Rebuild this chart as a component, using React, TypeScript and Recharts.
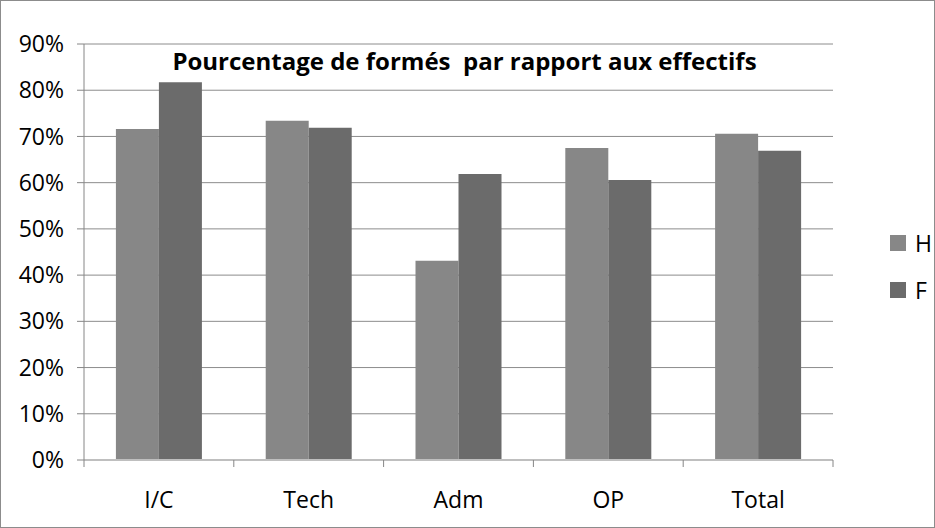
import React from 'react';
import { BarChart, Bar, XAxis, YAxis, CartesianGrid } from 'recharts';

const categories = ['I/C', 'Tech', 'Adm', 'OP', 'Total'];
const hommes = [0.716, 0.734, 0.431, 0.675, 0.706];
const femmes = [0.817, 0.719, 0.619, 0.606, 0.669];
const yTicks = [0, 0.1, 0.2, 0.3, 0.4, 0.5, 0.6, 0.7, 0.8, 0.9];
const title = 'Pourcentage de formés  par rapport aux effectifs';
const series = [
  { key: 'H', color: '#878787' },
  { key: 'F', color: '#6b6b6b' },
];

const data = categories.map((name, i) => ({ name, H: hommes[i], F: femmes[i] }));

const FONT = '"Open Sans", sans-serif';
const W = 935;
const H = 528;
const MARGIN = { top: 44, right: 102, left: 0, bottom: 0 };
const Y_WIDTH = 84;
const BAND = (W - MARGIN.left - MARGIN.right - Y_WIDTH) / categories.length;

// Excel style: tick marks sit between categories, labels in the middle
const CategoryTick = (props: any) => {
  const { x, y, payload, index } = props;
  return (
    <g>
      <line x1={x - BAND / 2} x2={x - BAND / 2} y1={y} y2={y + 7} stroke="#868686" />
      {index === categories.length - 1 && (
        <line x1={x + BAND / 2} x2={x + BAND / 2} y1={y} y2={y + 7} stroke="#868686" />
      )}
      <text x={x} y={y + 48} textAnchor="middle" fill="#000" fontSize={23} fontFamily={FONT}>
        {payload.value}
      </text>
    </g>
  );
};

export default function App() {
  return (
    <div style={{ position: 'absolute', left: 0, top: 0, width: W, height: H, background: '#fff' }}>
      <div style={{ position: 'absolute', left: 0, top: 0, width: W - 2, height: H - 2, border: '1px solid #8c8c8c' }} />
      <BarChart
        width={W}
        height={H}
        data={data}
        margin={MARGIN}
        barCategoryGap="21.3%"
        barGap={0}
      >
        <CartesianGrid vertical={false} stroke="#8c8c8c" />
        <XAxis
          dataKey="name"
          interval={0}
          height={68}
          tickSize={0}
          tickMargin={0}
          tickLine={false}
          axisLine={{ stroke: '#bfbfbf', strokeWidth: 2 }}
          tick={<CategoryTick />}
        />
        <YAxis
          width={Y_WIDTH}
          domain={[0, 0.9]}
          ticks={yTicks}
          tickFormatter={(v: number) => `${Math.round(v * 100)}%`}
          tickSize={7}
          tickMargin={13}
          stroke="#868686"
          tick={{ fill: '#000', fontSize: 23, fontFamily: FONT }}
        />
        {series.map((s) => (
          <Bar key={s.key} dataKey={s.key} name={s.key} fill={s.color} isAnimationActive={false} />
        ))}
      </BarChart>
      <div
        style={{
          position: 'absolute',
          left: 0,
          width: 929,
          top: 44,
          textAlign: 'center',
          fontFamily: FONT,
          fontWeight: 700,
          fontSize: 24,
          color: '#000',
          whiteSpace: 'pre',
        }}
      >
        {title}
      </div>
      <div style={{ position: 'absolute', left: 890, top: 219 }}>
        {series.map((s) => (
          <div key={s.key} style={{ display: 'flex', alignItems: 'center', height: 47 }}>
            <span style={{ width: 16, height: 16, background: s.color, display: 'inline-block', marginRight: 9 }} />
            <span style={{ fontFamily: FONT, fontSize: 23, color: '#000' }}>{s.key}</span>
          </div>
        ))}
      </div>
    </div>
  );
}
